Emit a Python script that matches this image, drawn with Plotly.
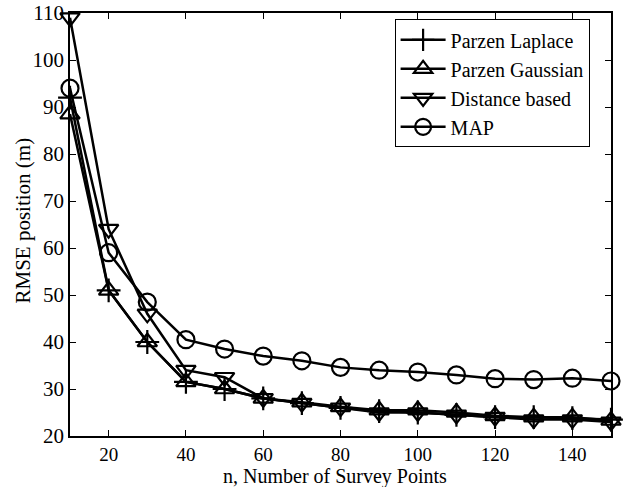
import plotly.graph_objects as go

n_points = [10, 20, 30, 40, 50, 60, 70, 80, 90, 100, 110, 120, 130, 140, 150]
parzen_laplace = [92, 51, 40, 31.5, 30, 28, 27, 26, 25.3, 25, 24.5, 24, 24, 23.8, 23.5]
parzen_gaussian = [88.5, 51, 40, 31.5, 30, 28, 27.2, 26.2, 25.5, 25.5, 25, 24.3, 24, 24, 23.3]
distance_based = [109, 64, 46, 34, 32.5, 28, 27, 26, 25, 25, 24.5, 24, 23.5, 23.5, 23]
map_est = [94, 59, 48.5, 40.5, 38.5, 37, 36, 34.6, 34, 33.6, 33, 32.2, 32, 32.3, 31.7]

x_title = "n, Number of Survey Points"
y_title = "RMSE position (m)"

series = [
    ("Parzen Laplace", parzen_laplace, "cross-thin-open"),
    ("Parzen Gaussian", parzen_gaussian, "triangle-up-open"),
    ("Distance based", distance_based, "triangle-down-open"),
    ("MAP", map_est, "circle-open"),
]

fig = go.Figure()
for name, ys, sym in series:
    fig.add_trace(go.Scatter(
        x=n_points, y=ys, name=name, mode="lines+markers",
        line=dict(color="black", width=2.5),
        marker=dict(symbol=sym, size=17, color="black", line=dict(width=2.2, color="black")),
        cliponaxis=False,
    ))

font = "Liberation Serif, serif"
fig.update_layout(
    width=626, height=487,
    margin=dict(l=70, r=15, t=13, b=51, autoexpand=False),
    paper_bgcolor="white", plot_bgcolor="white",
    font=dict(family=font, size=21, color="black"),
    showlegend=True,
    legend=dict(x=0.6, y=0.985, xanchor="left", yanchor="top",
                bordercolor="black", borderwidth=1, bgcolor="white",
                font=dict(family=font, size=20), tracegroupgap=0, itemwidth=45),
    annotations=[
        dict(text=x_title, xref="paper", yref="paper", x=0.5, y=0, xanchor="center",
             yanchor="middle", xshift=-6, yshift=-40, showarrow=False,
             font=dict(family=font, size=20)),
        dict(text=y_title, xref="paper", yref="paper", x=0, y=0.5, xanchor="center",
             yanchor="middle", xshift=-48, yshift=4, textangle=-90, showarrow=False,
             font=dict(family=font, size=21)),
    ],
)
fig.update_xaxes(
    range=[10, 150], tickvals=[20, 40, 60, 80, 100, 120, 140],
    ticks="inside", ticklen=6, tickwidth=1, tickcolor="black",
    showline=True, linecolor="black", linewidth=1.5, mirror="ticks",
    showgrid=False, zeroline=False, automargin=False,
    tickfont=dict(family=font, size=19),
)
fig.update_yaxes(
    range=[20, 110], tickvals=list(range(20, 111, 10)),
    ticks="inside", ticklen=6, tickwidth=1, tickcolor="black",
    showline=True, linecolor="black", linewidth=1.5, mirror="ticks",
    showgrid=False, zeroline=False, automargin=False,
    tickfont=dict(family=font, size=21),
)
fig.write_html("out.html")
